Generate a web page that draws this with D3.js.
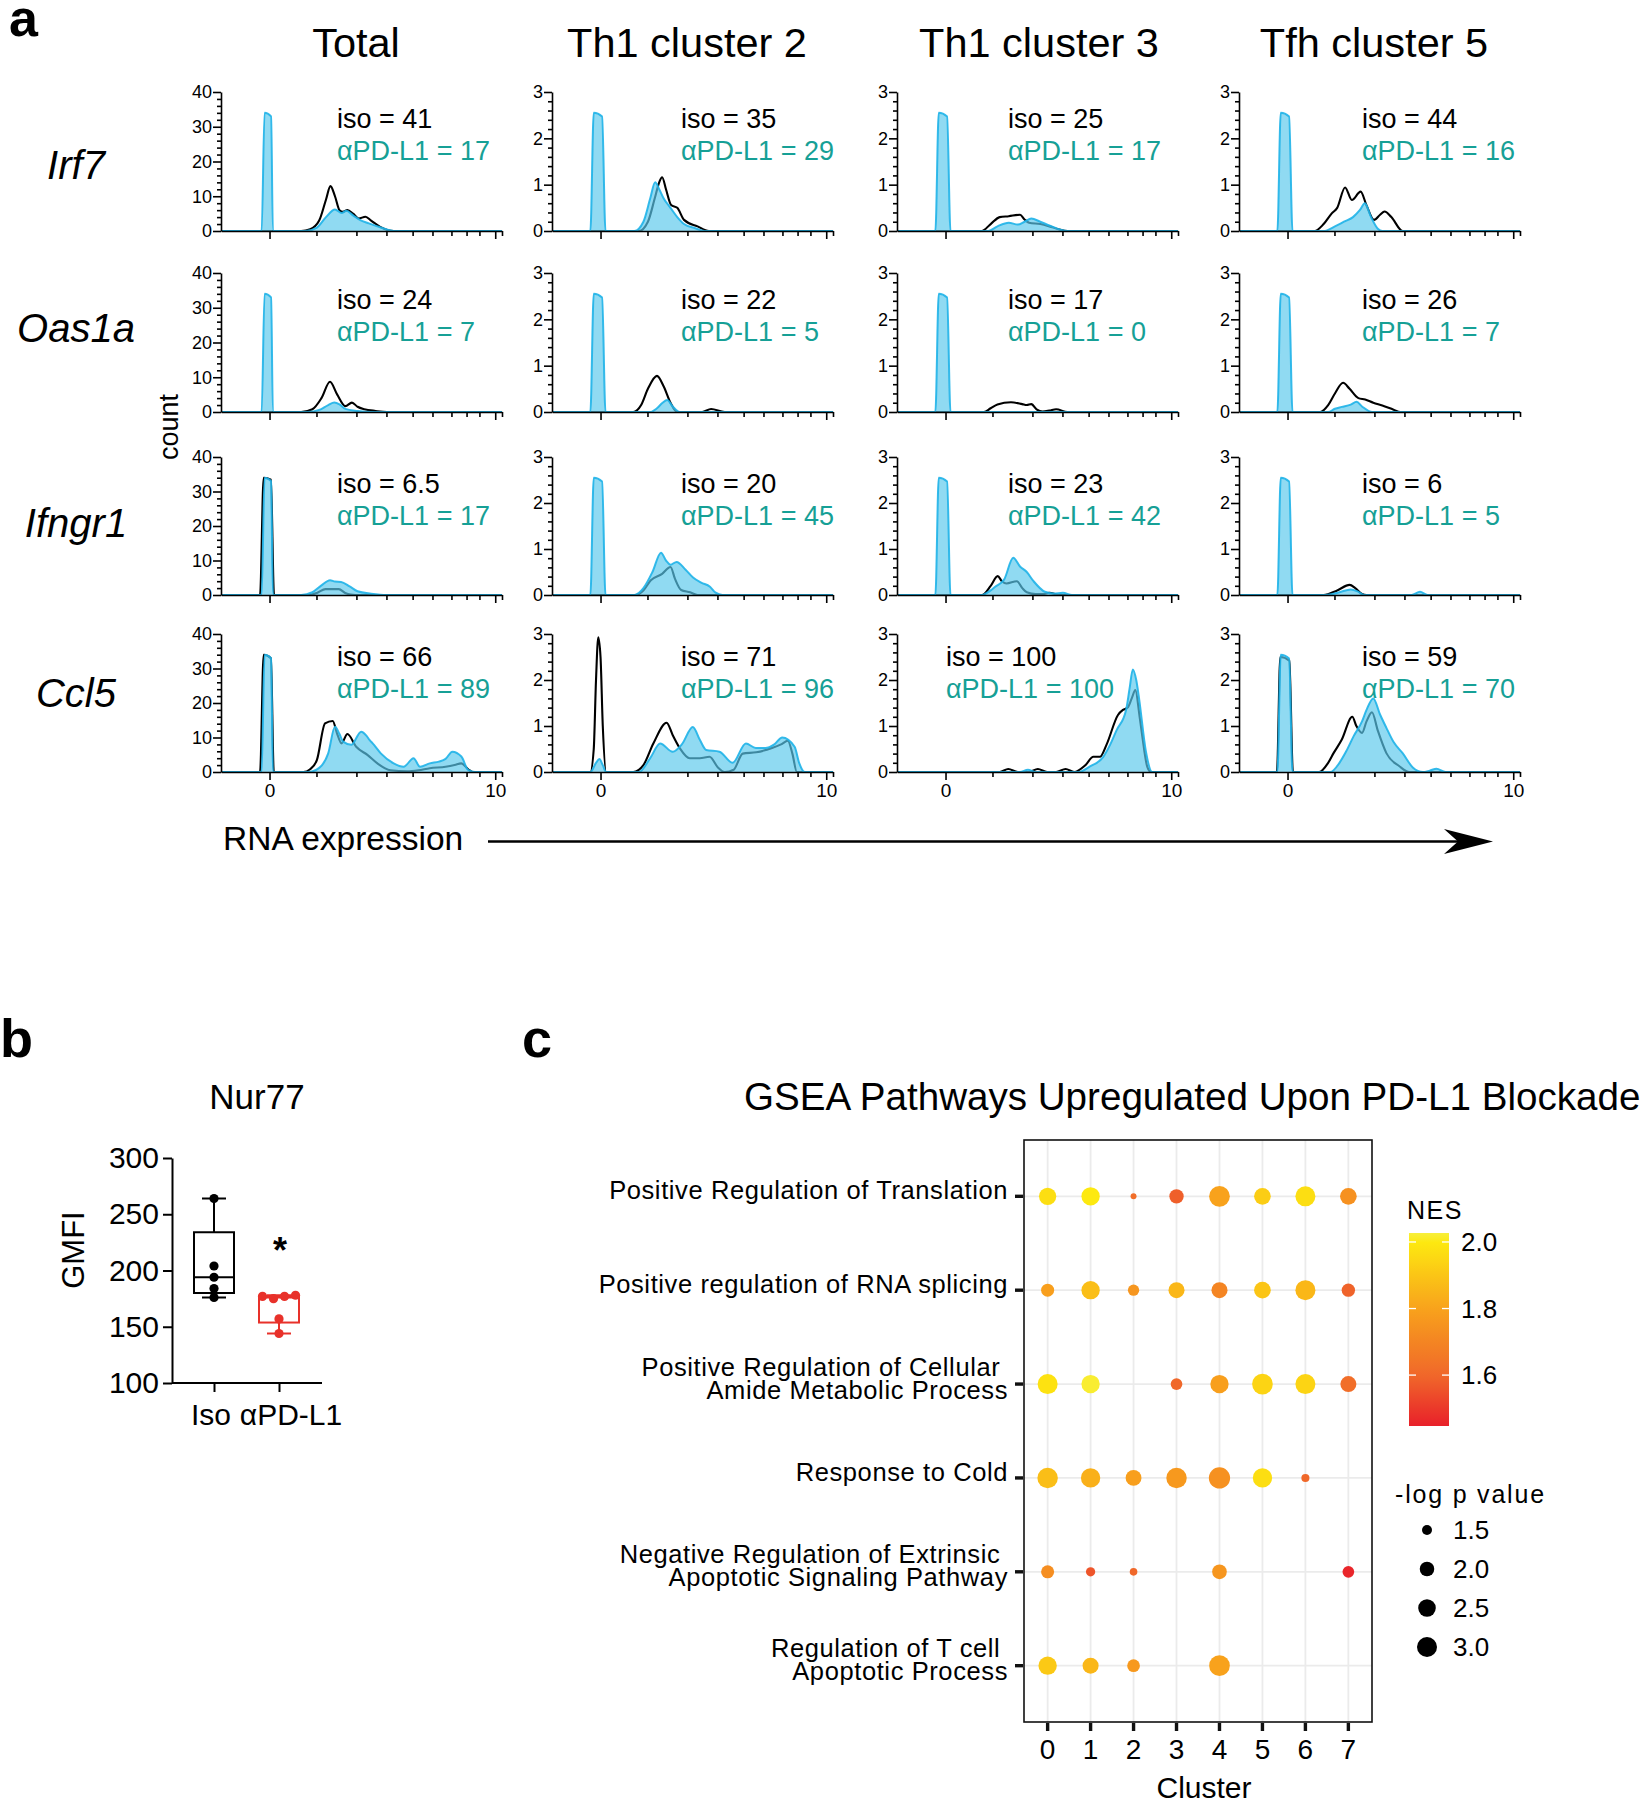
<!DOCTYPE html>
<html>
<head>
<meta charset="utf-8">
<script src="https://cdn.jsdelivr.net/npm/d3@7"></script>
<style>
  body { margin: 0; background: #fff; }
  svg { display: block; }
  text { font-family: "Liberation Sans", Arial, Helvetica, sans-serif; fill: #000; }
</style>
</head>
<body>
<svg id="fig" width="1643" height="1800"></svg>
<script>
// ===================== DATA =====================
// ---- panel a ----
const columns = ["Total", "Th1 cluster 2", "Th1 cluster 3", "Tfh cluster 5"];
const genes = ["Irf7", "Oas1a", "Ifngr1", "Ccl5"];
const yMaxByColumn = [40, 3, 3, 3];
const yMajorByColumn = [[0, 10, 20, 30, 40], [0, 1, 2, 3], [0, 1, 2, 3], [0, 1, 2, 3]];
const xTickValues = [0, 10];
const xTickLabels = ["0", "10"];
const xMinorTicks = [2.08, 3.85, 5.18, 6.34, 7.22, 8.06, 8.73, 9.3, 10.3];
const isoPercent = [[41, 35, 25, 44], [24, 22, 17, 26], [6.5, 20, 23, 6], [66, 71, 100, 59]];
const pdl1Percent = [[17, 29, 17, 16], [7, 5, 0, 7], [17, 45, 42, 5], [89, 96, 100, 70]];

// density traces [expression, count]; isoDensity[row][col]
const isoDensity = [
  [
    [[-2.1,0],[1.4,0],[1.8,0.5],[2.2,3],[2.5,9],[2.7,12.9],[2.9,10],[3.1,6],[3.25,5.5],[3.45,6],[3.7,5],[3.95,3.6],[4.25,4.1],[4.5,3],[4.9,1.2],[5.5,0],[10.3,0]],
    [[-2.1,0],[1.7,0],[2.1,0.2],[2.4,0.7],[2.6,1.05],[2.73,1.16],[2.9,0.9],[3.13,0.56],[3.4,0.5],[3.7,0.24],[4.3,0.1],[4.8,0],[10.3,0]],
    [[-2.1,0],[1.6,0],[2.0,0.15],[2.4,0.3],[2.8,0.32],[3.3,0.35],[3.5,0.25],[3.7,0.18],[4.2,0.15],[4.6,0.1],[5.0,0.04],[5.4,0],[10.3,0]],
    [[-2.1,0],[1.2,0],[1.6,0.15],[1.96,0.38],[2.2,0.5],[2.55,0.94],[2.85,0.67],[3.24,0.85],[3.5,0.55],[3.83,0.24],[4.1,0.35],[4.3,0.42],[4.6,0.3],[5.1,0],[10.3,0]]
  ],
  [
    [[-2.1,0],[1.4,0],[1.9,0.8],[2.3,4],[2.68,8.7],[3.0,5],[3.36,1.7],[3.65,2.7],[3.9,1.5],[4.2,0.8],[4.7,0.3],[5.2,0],[10.3,0]],
    [[-2.1,0],[1.45,0],[1.8,0.15],[2.1,0.5],[2.5,0.78],[2.8,0.55],[3.1,0.2],[3.4,0],[4.5,0],[4.9,0.065],[5.5,0],[10.3,0]],
    [[-2.1,0],[1.7,0],[2.0,0.08],[2.3,0.16],[2.9,0.21],[3.4,0.17],[3.6,0.15],[3.8,0.17],[4.05,0.05],[4.3,0.01],[4.6,0.03],[4.9,0.06],[5.4,0],[10.3,0]],
    [[-2.1,0],[1.45,0],[1.8,0.15],[2.1,0.4],[2.46,0.63],[2.75,0.5],[3.14,0.3],[3.44,0.27],[3.8,0.2],[4.2,0.14],[4.7,0.05],[5.0,0],[10.3,0]]
  ],
  [
    [[-2.1,0],[-0.42,0],[-0.26,34],[0.06,33.4],[0.2,0],[1.7,0],[2.1,0.6],[2.48,1.7],[3.07,1.7],[3.35,0.6],[3.6,0.15],[4.0,0],[10.3,0]],
    [[-2.1,0],[1.54,0],[1.9,0.1],[2.23,0.32],[2.73,0.46],[3.1,0.61],[3.3,0.35],[3.57,0.11],[3.97,0.06],[4.3,0],[10.3,0]],
    [[-2.1,0],[1.63,0],[2.0,0.2],[2.31,0.41],[2.5,0.3],[2.7,0.25],[3.16,0.3],[3.4,0.15],[3.6,0.06],[4.0,0.02],[4.3,0.02],[4.6,0.05],[5.0,0],[10.3,0]],
    [[-2.1,0],[1.6,0],[2.2,0.1],[2.75,0.22],[3.0,0.15],[3.3,0.02],[3.5,0],[10.3,0]]
  ],
  [
    [[-2.1,0],[-0.42,0],[-0.26,34],[0.06,33],[0.19,0],[1.5,0],[1.8,0.8],[2.1,3.5],[2.46,14.1],[2.8,14.8],[3.0,11],[3.19,8.3],[3.45,11],[3.84,7.3],[4.35,4.9],[4.78,2.5],[5.36,0.5],[6.1,0.2],[6.6,0.5],[7.1,1.1],[7.8,1.5],[8.2,2],[8.5,2.5],[8.8,0.8],[9.0,0],[10.3,0]],
    [[-2.1,0],[-0.45,0],[-0.3,0.5],[-0.2,2],[-0.1,2.93],[0,2.5],[0.1,1],[0.25,0],[1.45,0],[1.9,0.15],[2.34,0.62],[2.93,1.07],[3.2,0.8],[3.51,0.52],[3.95,0.3],[4.4,0.3],[4.83,0.33],[5.2,0.1],[5.5,0],[5.9,0.05],[6.3,0.4],[6.9,0.43],[7.6,0.52],[8.0,0.6],[8.3,0.68],[8.5,0.4],[8.7,0],[10.3,0]],
    [[-2.1,0],[2.4,0],[2.78,0.065],[3.2,0],[3.7,0],[4.09,0.065],[4.5,0],[4.9,0],[5.32,0.065],[5.7,0],[6.2,0.15],[6.55,0.33],[6.84,0.33],[7.13,0.59],[7.64,1.24],[7.86,1.35],[8.07,1.4],[8.25,1.6],[8.41,1.78],[8.6,1.2],[8.72,0.77],[8.94,0.11],[9.1,0],[10.3,0]],
    [[-2.1,0],[-0.47,0],[-0.32,2.5],[0.08,2.42],[0.24,0],[1.4,0],[1.8,0.2],[2.04,0.41],[2.4,0.7],[2.87,1.2],[3.05,1.0],[3.3,0.85],[3.5,1.1],[3.74,1.3],[4.0,0.9],[4.38,0.41],[4.97,0.12],[5.4,0],[10.3,0]]
  ]
];

const pdl1Density = [
  [
    [[-2.1,0],[-0.35,0],[-0.22,34],[0.07,33],[0.15,0],[1.6,0],[2.1,1],[2.5,4],[2.9,6.2],[3.2,5.2],[3.4,5.8],[3.7,4.5],[4.0,3.2],[4.4,2.2],[4.9,1.1],[5.6,0],[10.3,0]],
    [[-2.1,0],[-0.45,0],[-0.3,2.55],[0.07,2.47],[0.22,0],[1.5,0],[1.9,0.2],[2.2,0.7],[2.42,1.05],[2.6,0.9],[2.8,0.7],[3.1,0.5],[3.4,0.3],[3.7,0.15],[4.2,0.06],[4.6,0],[10.3,0]],
    [[-2.1,0],[-0.45,0],[-0.3,2.55],[0.07,2.47],[0.22,0],[1.9,0],[2.3,0.1],[2.8,0.18],[3.2,0.14],[3.5,0.2],[3.8,0.27],[4.2,0.2],[4.6,0.12],[5.4,0],[10.3,0]],
    [[-2.1,0],[-0.45,0],[-0.3,2.55],[0.07,2.47],[0.22,0],[1.6,0],[2.1,0.1],[2.5,0.2],[2.9,0.3],[3.2,0.45],[3.43,0.6],[3.7,0.3],[4.0,0.05],[4.2,0],[10.3,0]]
  ],
  [
    [[-2.1,0],[-0.35,0],[-0.22,34],[0.07,33],[0.15,0],[1.7,0],[2.2,0.6],[2.6,2],[2.87,2.7],[3.1,2.2],[3.36,0.9],[3.9,0.3],[4.5,0],[10.3,0]],
    [[-2.1,0],[-0.45,0],[-0.3,2.55],[0.07,2.47],[0.22,0],[2.2,0],[2.5,0.08],[2.75,0.2],[2.95,0.26],[3.2,0.12],[3.5,0],[10.3,0]],
    [[-2.1,0],[-0.45,0],[-0.3,2.55],[0.07,2.47],[0.22,0],[10.3,0]],
    [[-2.1,0],[-0.45,0],[-0.3,2.55],[0.07,2.47],[0.22,0],[1.8,0],[2.1,0.07],[2.4,0.11],[2.8,0.16],[3.06,0.22],[3.3,0.12],[3.75,0],[10.3,0]]
  ],
  [
    [[-2.1,0],[-0.35,0],[-0.22,34],[0.07,33],[0.15,0],[1.4,0],[1.9,0.8],[2.3,2.8],[2.68,4.3],[2.9,3.9],[3.17,3.8],[3.55,2.5],[3.9,1.1],[4.5,0.4],[5.2,0],[10.3,0]],
    [[-2.1,0],[-0.45,0],[-0.3,2.55],[0.07,2.47],[0.22,0],[1.5,0],[1.9,0.15],[2.3,0.5],[2.68,0.92],[2.9,0.75],[3.1,0.66],[3.37,0.72],[3.77,0.55],[4.1,0.38],[4.46,0.27],[4.85,0.18],[5.1,0.05],[5.4,0],[10.3,0]],
    [[-2.1,0],[-0.45,0],[-0.3,2.55],[0.07,2.47],[0.22,0],[1.6,0],[2.0,0.1],[2.2,0.18],[2.6,0.34],[3.0,0.81],[3.3,0.62],[3.6,0.5],[3.9,0.3],[4.4,0.07],[4.8,0.03],[5.2,0.05],[5.6,0],[10.3,0]],
    [[-2.1,0],[-0.45,0],[-0.3,2.55],[0.07,2.47],[0.22,0],[1.7,0],[2.3,0.06],[2.8,0.12],[3.1,0.08],[3.4,0],[5.5,0],[5.87,0.07],[6.2,0],[10.3,0]]
  ],
  [
    [[-2.1,0],[-0.35,0],[-0.22,34],[0.07,33],[0.15,0],[1.7,0],[2.2,1.2],[2.6,5.4],[2.9,13.1],[3.1,11],[3.26,8.8],[3.62,7.9],[4.06,11.7],[4.3,10.5],[4.43,9.3],[4.57,8.3],[4.93,5.4],[5.5,2.5],[5.94,1.5],[6.38,4],[6.67,1.5],[7.1,2.5],[7.5,3],[7.8,3.8],[8.1,5.9],[8.5,4.5],[8.8,0.6],[9.1,0],[10.3,0]],
    [[-2.1,0],[-0.45,0],[-0.2,0.2],[-0.05,0.28],[0.1,0.15],[0.25,0],[1.7,0],[2.2,0.3],[2.64,0.62],[3.2,0.44],[3.6,0.6],[4.09,0.98],[4.4,0.7],[4.68,0.48],[5.27,0.44],[5.85,0.2],[6.44,0.62],[6.88,0.52],[7.3,0.52],[7.7,0.6],[8.05,0.75],[8.6,0.55],[8.8,0.2],[9.05,0],[10.3,0]],
    [[-2.1,0],[3.3,0],[3.65,0.05],[4.0,0],[5.9,0],[6.4,0.12],[6.99,0.33],[7.3,0.6],[7.57,0.9],[8.0,1.35],[8.15,1.8],[8.3,2.23],[8.45,2.0],[8.58,1.58],[8.87,0.47],[9.16,0],[10.3,0]],
    [[-2.1,0],[-0.45,0],[-0.3,2.55],[0.07,2.47],[0.22,0],[1.9,0],[2.3,0.2],[2.6,0.45],[2.93,0.78],[3.3,1.1],[3.5,1.35],[3.8,1.6],[4.1,1.25],[4.38,0.96],[4.7,0.65],[5.1,0.41],[5.55,0.1],[6.0,0],[6.3,0.03],[6.6,0.07],[7.0,0],[10.3,0]]
  ]
];

// ---- panel b ----
const boxGroups = ["Iso", "\u03b1PD-L1"];
const nur77Iso = [264, 204, 194, 184, 176];
const nur77Pdl1 = [177, 175, 177, 178, 157, 144];
const gmfiTicks = [100, 150, 200, 250, 300];

// ---- panel c ----
const clusters = ["0", "1", "2", "3", "4", "5", "6", "7"];
const pathwayLabels = [
  ["Positive Regulation of Translation"],
  ["Positive regulation of RNA splicing"],
  ["Positive Regulation of Cellular ", "Amide Metabolic Process"],
  ["Response to Cold"],
  ["Negative Regulation of Extrinsic ", "Apoptotic Signaling Pathway"],
  ["Regulation of T cell ", "Apoptotic Process"]
];
const nesValues = [
  [1.97, 2.00, 1.62, 1.58, 1.80, 1.92, 1.97, 1.74],
  [1.79, 1.88, 1.76, 1.86, 1.70, 1.90, 1.86, 1.59],
  [1.98, 2.02, null, 1.60, 1.79, 1.94, 1.94, 1.62],
  [1.88, 1.84, 1.79, 1.77, 1.74, 1.97, 1.60, null],
  [1.73, 1.56, 1.60, null, 1.76, null, null, 1.46],
  [1.91, 1.86, 1.77, null, 1.80, null, null, null]
];
const logpValues = [
  [2.45, 2.65, 1.31, 1.97, 3.16, 2.34, 3.00, 2.34],
  [1.80, 2.65, 1.61, 2.23, 2.23, 2.34, 3.00, 1.84],
  [3.00, 2.65, null, 1.65, 2.65, 3.16, 3.00, 2.23],
  [3.10, 2.85, 2.20, 3.10, 3.30, 2.85, 1.38, null],
  [1.80, 1.45, 1.36, null, 2.02, null, null, 1.65],
  [2.65, 2.23, 1.76, null, 3.16, null, null, null]
];
const nesTicks = [1.6, 1.8, 2.0];
const logpLegend = [1.5, 2.0, 2.5, 3.0];

// ===================== DRAWING =====================
const svg = d3.select("#fig");
const FF = '"Liberation Sans", Arial, Helvetica, sans-serif';

// ---------- panel a ----------
const colAxisX = [221, 552, 897, 1239];
const plotW = 281;
const rowTop = [92, 273, 457, 634];
const rowH = [139, 139, 138, 138];
const xDomain = [-2.15, 10.3];
const titleX = [356, 687, 1039, 1374];
const geneY = [179, 342, 537, 707];
const annotX = [[337, 681, 1008, 1362], [337, 681, 1008, 1362], [337, 681, 1008, 1362], [337, 681, 946, 1362]];
const blueFill = "#5cc8ec", blueStroke = "#1fb2e8", tealText = "#16a096";

svg.append("text").attr("x", 9).attr("y", 36).attr("font-size", 52).attr("font-weight", "bold").text("a");

columns.forEach((name, c) => {
  svg.append("text").attr("x", titleX[c]).attr("y", 57).attr("text-anchor", "middle")
    .attr("font-size", 41.5).text(name);
});
genes.forEach((g, r) => {
  svg.append("text").attr("x", 76).attr("y", geneY[r]).attr("text-anchor", "middle")
    .attr("font-size", 40).attr("font-style", "italic").text(g);
});
svg.append("text").attr("transform", "translate(178,427) rotate(-90)").attr("text-anchor", "middle")
  .attr("font-size", 27).text("count");

genes.forEach((g, r) => {
  columns.forEach((name, c) => {
    const x = d3.scaleLinear().domain(xDomain).range([colAxisX[c], colAxisX[c] + plotW]);
    const y = d3.scaleLinear().domain([0, yMaxByColumn[c]]).range([rowTop[r] + rowH[r], rowTop[r]]);
    const gp = svg.append("g");
    const line = d3.line().x(d => x(d[0])).y(d => y(d[1])).curve(d3.curveMonotoneX);
    const area = d3.area().x(d => x(d[0])).y0(y(0)).y1(d => y(d[1])).curve(d3.curveMonotoneX);

    gp.append("path").attr("d", line(isoDensity[r][c])).attr("fill", "none")
      .attr("stroke", "#000").attr("stroke-width", 2.1).attr("stroke-linejoin", "round");
    gp.append("path").attr("d", area(pdl1Density[r][c])).attr("fill", blueFill).attr("fill-opacity", 0.68);
    gp.append("path").attr("d", line(pdl1Density[r][c])).attr("fill", "none")
      .attr("stroke", blueStroke).attr("stroke-width", 2).attr("stroke-opacity", 0.9).attr("stroke-linejoin", "round");

    // y axis
    const yMinor = d3.range(0, yMaxByColumn[c] + 1e-9, yMaxByColumn[c] === 40 ? 2 : 0.2)
      .filter(v => !yMajorByColumn[c].some(m => Math.abs(m - v) < 1e-6));
    const yAx = gp.append("g").attr("transform", `translate(${colAxisX[c]},0)`)
      .call(d3.axisLeft(y).tickValues(yMajorByColumn[c]).tickSize(8).tickSizeOuter(0).tickPadding(1)
        .tickFormat(d3.format("d")));
    yAx.selectAll("text").attr("font-size", 18).style("font-family", FF);
    const yAxMinor = gp.append("g").attr("transform", `translate(${colAxisX[c]},0)`)
      .call(d3.axisLeft(y).tickValues(yMinor).tickSize(4).tickFormat(""));
    yAxMinor.select(".domain").remove();

    // x axis
    const xAx = gp.append("g").attr("transform", `translate(0,${rowTop[r] + rowH[r]})`)
      .call(d3.axisBottom(x).tickValues(xTickValues).tickSize(8).tickSizeOuter(0).tickPadding(4)
        .tickFormat((d, i) => r === genes.length - 1 ? xTickLabels[i] : ""));
    xAx.selectAll("text").attr("font-size", 19).style("font-family", FF);
    gp.append("g").attr("transform", `translate(0,${rowTop[r] + rowH[r]})`)
      .call(d3.axisBottom(x).tickValues(xMinorTicks).tickSize(5).tickFormat(""))
      .select(".domain").remove();
    gp.selectAll(".domain, .tick line").attr("stroke", "#000").attr("stroke-width", 1.6);

    // annotations
    const off = r === genes.length - 1 ? [32, 64] : [36, 68];
    gp.append("text").attr("x", annotX[r][c]).attr("y", rowTop[r] + off[0]).attr("font-size", 27)
      .text(`iso = ${isoPercent[r][c]}`);
    gp.append("text").attr("x", annotX[r][c]).attr("y", rowTop[r] + off[1]).attr("font-size", 27)
      .style("fill", tealText).text(`\u03b1PD-L1 = ${pdl1Percent[r][c]}`);
  });
});

// RNA expression arrow
svg.append("text").attr("x", 223).attr("y", 850).attr("font-size", 33.5).text("RNA expression");
svg.append("line").attr("x1", 488).attr("x2", 1460).attr("y1", 841.5).attr("y2", 841.5)
  .attr("stroke", "#000").attr("stroke-width", 2.6);
svg.append("path").attr("d", "M1493,841.5 L1444,829 L1458,841.5 L1444,854 Z").attr("fill", "#000");

// ---------- panel b ----------
svg.append("text").attr("x", 0).attr("y", 1057).attr("font-size", 54).attr("font-weight", "bold").text("b");
svg.append("text").attr("x", 257).attr("y", 1109).attr("text-anchor", "middle").attr("font-size", 35).text("Nur77");

const yB = d3.scaleLinear().domain([100, 300]).range([1383, 1158]);
const xB = d3.scalePoint().domain(boxGroups).range([214, 279]);
const gB = svg.append("g");
const yAxB = gB.append("g").attr("transform", "translate(172,0)")
  .call(d3.axisLeft(yB).tickValues(gmfiTicks).tickSize(9).tickSizeOuter(0).tickPadding(4));
yAxB.selectAll("text").attr("font-size", 30).style("font-family", FF);
const xAxB = gB.append("g").attr("transform", "translate(0,1383)")
  .call(d3.axisBottom(xB).tickSize(9).tickSizeOuter(0).tickFormat(""));
xAxB.select(".domain").attr("d", "M172,0H322");
gB.selectAll(".domain, .tick line").attr("stroke", "#000").attr("stroke-width", 2);
gB.append("text").attr("x", 211).attr("y", 1425).attr("text-anchor", "middle").attr("font-size", 30).text(boxGroups[0]);
gB.append("text").attr("x", 291).attr("y", 1425).attr("text-anchor", "middle").attr("font-size", 30).text(boxGroups[1]);
gB.append("text").attr("transform", "translate(84,1250) rotate(-90)").attr("text-anchor", "middle")
  .attr("font-size", 31).text("GMFI");

function prismQuantile(vals, p) {
  const s = vals.slice().sort(d3.ascending);
  const rank = p * (s.length + 1);
  const lo = Math.max(1, Math.min(s.length, Math.floor(rank)));
  const hi = Math.max(1, Math.min(s.length, Math.ceil(rank)));
  return s[lo - 1] + (rank - Math.floor(rank)) * (s[hi - 1] - s[lo - 1]);
}
function drawBox(vals, group, color) {
  const cx = xB(group), half = 20, cap = 12, r = 4.6;
  const q1 = prismQuantile(vals, 0.25), q3 = prismQuantile(vals, 0.75), med = prismQuantile(vals, 0.5);
  const mn = d3.min(vals), mx = d3.max(vals);
  const g = gB.append("g").attr("stroke", color).attr("stroke-width", 2).attr("fill", "none");
  g.append("line").attr("x1", cx).attr("x2", cx).attr("y1", yB(mx)).attr("y2", yB(q3));
  g.append("line").attr("x1", cx).attr("x2", cx).attr("y1", yB(q1)).attr("y2", yB(mn));
  g.append("line").attr("x1", cx - cap).attr("x2", cx + cap).attr("y1", yB(mx)).attr("y2", yB(mx));
  g.append("line").attr("x1", cx - cap).attr("x2", cx + cap).attr("y1", yB(mn)).attr("y2", yB(mn));
  g.append("rect").attr("x", cx - half).attr("width", 2 * half).attr("y", yB(q3)).attr("height", yB(q1) - yB(q3));
  g.append("line").attr("x1", cx - half).attr("x2", cx + half).attr("y1", yB(med)).attr("y2", yB(med));
  // simple dodge of points that would overlap
  const pts = vals.map((v, i) => ({ v, i, py: yB(v) }));
  const used = new Set();
  pts.forEach(p => {
    if (used.has(p.i)) return;
    const grp = pts.filter(q => !used.has(q.i) && Math.abs(q.py - p.py) < 2 * r - 1);
    grp.forEach((q, k) => { q.px = cx + (k - (grp.length - 1) / 2) * 11; used.add(q.i); });
  });
  gB.selectAll(null).data(pts).enter().append("circle")
    .attr("cx", d => d.px).attr("cy", d => d.py).attr("r", r).attr("fill", color);
}
drawBox(nur77Iso, boxGroups[0], "#000");
drawBox(nur77Pdl1, boxGroups[1], "#e8312a");
gB.append("text").attr("x", 280).attr("y", 1263).attr("text-anchor", "middle").attr("font-size", 36)
  .attr("font-weight", "bold").text("*");

// ---------- panel c ----------
svg.append("text").attr("x", 522).attr("y", 1057).attr("font-size", 54).attr("font-weight", "bold").text("c");
svg.append("text").attr("x", 744).attr("y", 1110).attr("font-size", 38.6)
  .text("GSEA Pathways Upregulated Upon PD-L1 Blockade");

const px0 = 1024, px1 = 1372, py0 = 1140, py1 = 1722;
const xC = d3.scalePoint().domain(clusters).range([px0, px1]).padding(0.55);
const yC = d3.scalePoint().domain(d3.range(pathwayLabels.length)).range([py0, py1]).padding(0.6);
const nesColor = d3.scaleLinear().domain([1.447, 1.6, 1.8, 2.0, 2.027])
  .range(["#e8202a", "#f0682a", "#f8a21c", "#fde910", "#f7ef3c"]).clamp(true);
const logpMin = 1.3;
const rLin = d3.scaleLinear().domain([0, Math.sqrt(3.0 - logpMin)]).range([2.39, 10]);
const rSize = v => rLin(Math.sqrt(Math.max(0, v - logpMin)));

const gC = svg.append("g");
clusters.forEach(k => gC.append("line").attr("x1", xC(k)).attr("x2", xC(k)).attr("y1", py0).attr("y2", py1)
  .attr("stroke", "#ebebeb").attr("stroke-width", 1.8));
pathwayLabels.forEach((lab, i) => gC.append("line").attr("x1", px0).attr("x2", px1).attr("y1", yC(i)).attr("y2", yC(i))
  .attr("stroke", "#ebebeb").attr("stroke-width", 1.8));

const cells = [];
nesValues.forEach((row, i) => row.forEach((nes, j) => {
  if (nes !== null) cells.push({ i, j, nes, logp: logpValues[i][j] });
}));
gC.selectAll(null).data(cells).enter().append("circle")
  .attr("cx", d => xC(clusters[d.j])).attr("cy", d => yC(d.i))
  .attr("r", d => rSize(d.logp)).attr("fill", d => nesColor(d.nes));

gC.append("rect").attr("x", px0).attr("y", py0).attr("width", px1 - px0).attr("height", py1 - py0)
  .attr("fill", "none").attr("stroke", "#111").attr("stroke-width", 1.6);

// y ticks & labels
pathwayLabels.forEach((lines, i) => {
  const yy = yC(i);
  gC.append("line").attr("x1", px0 - 9).attr("x2", px0 - 1).attr("y1", yy).attr("y2", yy)
    .attr("stroke", "#111").attr("stroke-width", 3.4);
  const n = lines.length, lh = 23;
  lines.forEach((t, k) => {
    const cy = yy + (k - (n - 1) / 2) * lh;
    gC.append("text").attr("x", 1008).attr("y", cy + 3).attr("text-anchor", "end")
      .attr("font-size", 25.5).attr("letter-spacing", 0.6)
      .style("white-space", "pre").attr("xml:space", "preserve").text(t);
  });
});
// x ticks & labels
clusters.forEach(k => {
  gC.append("line").attr("x1", xC(k)).attr("x2", xC(k)).attr("y1", py1 + 1).attr("y2", py1 + 9)
    .attr("stroke", "#111").attr("stroke-width", 3.4);
  gC.append("text").attr("x", xC(k)).attr("y", 1759).attr("text-anchor", "middle").attr("font-size", 28).text(k);
});
gC.append("text").attr("x", 1204).attr("y", 1798).attr("text-anchor", "middle").attr("font-size", 30).text("Cluster");

// NES colorbar legend
const barX = 1409, barW = 40;
const yBar = d3.scaleLinear().domain([1.447, 2.027]).range([1426, 1233]);
const defs = svg.append("defs");
const grad = defs.append("linearGradient").attr("id", "nesGrad").attr("x1", 0).attr("x2", 0).attr("y1", 1).attr("y2", 0);
d3.range(0, 1.0001, 0.05).forEach(t => {
  const v = 1.447 + t * (2.027 - 1.447);
  grad.append("stop").attr("offset", t).attr("stop-color", nesColor(v));
});
svg.append("text").attr("x", 1407).attr("y", 1219).attr("font-size", 25).attr("letter-spacing", 1.5).text("NES");
svg.append("rect").attr("x", barX).attr("y", yBar(2.027)).attr("width", barW)
  .attr("height", yBar(1.447) - yBar(2.027)).attr("fill", "url(#nesGrad)");
nesTicks.forEach(v => {
  svg.append("line").attr("x1", barX).attr("x2", barX + 7).attr("y1", yBar(v)).attr("y2", yBar(v))
    .attr("stroke", "#fff").attr("stroke-width", 1.3);
  svg.append("line").attr("x1", barX + barW - 7).attr("x2", barX + barW).attr("y1", yBar(v)).attr("y2", yBar(v))
    .attr("stroke", "#fff").attr("stroke-width", 1.3);
  svg.append("text").attr("x", 1461).attr("y", yBar(v) + 9).attr("font-size", 26).text(v.toFixed(1));
});

// size legend
svg.append("text").attr("x", 1395).attr("y", 1503).attr("font-size", 25).attr("letter-spacing", 1.8).text("-log p value");
const legY = d3.scalePoint().domain(logpLegend).range([1530, 1647]);
logpLegend.forEach(v => {
  svg.append("circle").attr("cx", 1427).attr("cy", legY(v)).attr("r", rSize(v)).attr("fill", "#000");
  svg.append("text").attr("x", 1453).attr("y", legY(v) + 9).attr("font-size", 26).text(v.toFixed(1));
});
</script>
</body>
</html>
